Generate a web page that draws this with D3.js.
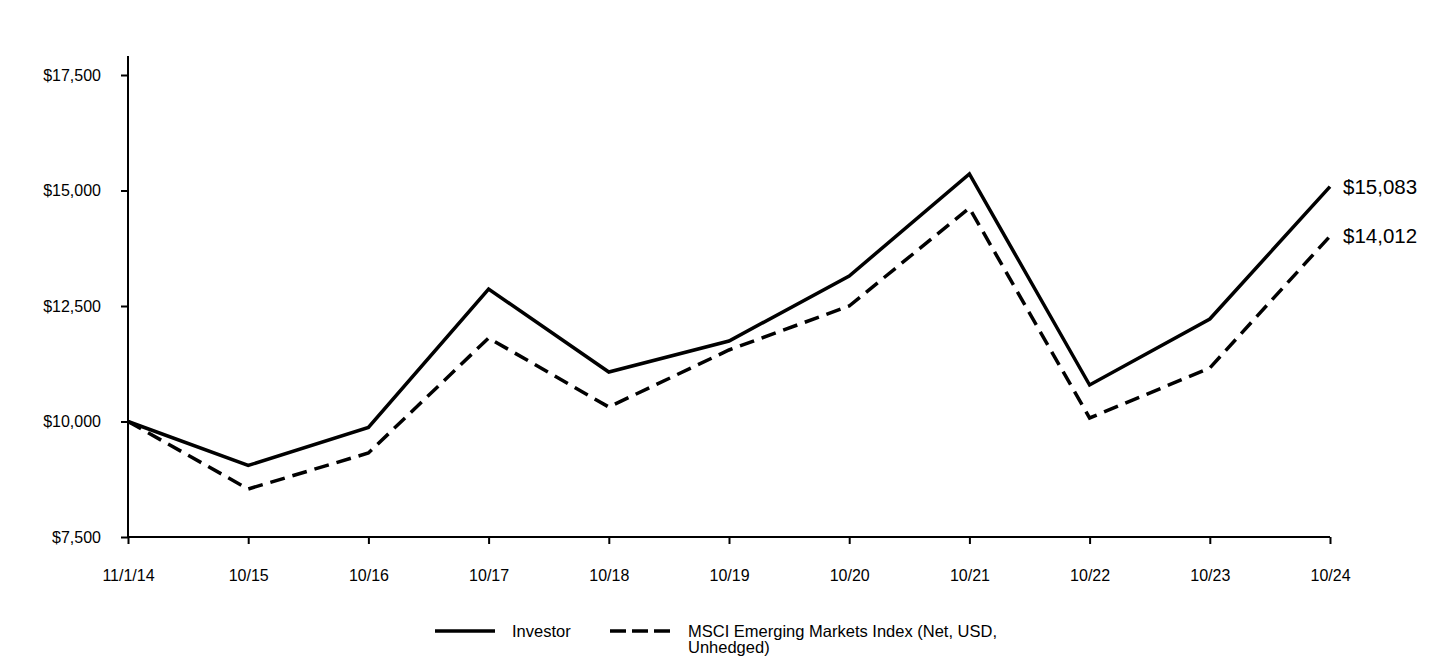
<!DOCTYPE html>
<html>
<head>
<meta charset="utf-8">
<script src="https://cdn.jsdelivr.net/npm/d3@7"></script>
<style>
  html, body { margin: 0; padding: 0; background: #fff; }
  svg { display: block; font-family: Arial, "Liberation Sans", sans-serif; }
</style>
</head>
<body>
<svg id="chart" width="1440" height="660"></svg>
<script>
const categories = ["11/1/14","10/15","10/16","10/17","10/18","10/19","10/20","10/21","10/22","10/23","10/24"];
const investor = [10000, 9048, 9870, 12868, 11071, 11742, 13149, 15357, 10790, 12219, 15083];
const msci = [10000, 8539, 9318, 11807, 10314, 11548, 12500, 14621, 10076, 11158, 14012];
const yTicks = [7500, 10000, 12500, 15000, 17500];
const seriesNames = ["Investor", "MSCI Emerging Markets Index (Net, USD,", "Unhedged)"];
const endLabels = ["$15,083", "$14,012"];

const svg = d3.select("#chart");
const x = d3.scalePoint().domain(categories).range([128, 1330]);
const y = d3.scaleLinear().domain([7500, 17500]).range([537, 75]);
const FONT = "Arial, 'Liberation Sans', sans-serif";

// y axis
const yAxis = d3.axisLeft(y).tickValues(yTicks).tickSize(7).tickPadding(20)
  .tickFormat(d => "$" + d3.format(",")(d));
const gy = svg.append("g").attr("transform", "translate(128,0)").call(yAxis);
gy.select(".domain").remove();
gy.append("line").attr("x1", 0).attr("x2", 0).attr("y1", y(17912)).attr("y2", y(7500))
  .attr("stroke", "#000").attr("stroke-width", 2);
gy.selectAll(".tick line").attr("stroke", "#000").attr("stroke-width", 2);
gy.selectAll(".tick text").attr("fill", "#000").style("font-size", "16px").style("font-family", FONT);

// x axis
const xAxis = d3.axisBottom(x).tickSize(7).tickPadding(26);
const gx = svg.append("g").attr("transform", "translate(0,537)").call(xAxis);
gx.select(".domain").remove();
gx.append("line").attr("x1", 128).attr("x2", 1330).attr("y1", 0).attr("y2", 0)
  .attr("stroke", "#000").attr("stroke-width", 2);
gx.selectAll(".tick line").attr("stroke", "#000").attr("stroke-width", 2);
gx.selectAll(".tick text").attr("fill", "#000").style("font-size", "16px").style("font-family", FONT);

const line = d3.line().x((d, i) => x(categories[i])).y(d => y(d));

svg.append("path").datum(msci).attr("d", line).attr("fill", "none")
  .attr("stroke", "#000").attr("stroke-width", 3.5).attr("stroke-dasharray", "15,8")
  .attr("stroke-linejoin", "miter");
svg.append("path").datum(investor).attr("d", line).attr("fill", "none")
  .attr("stroke", "#000").attr("stroke-width", 3.5).attr("stroke-linejoin", "miter");

// end labels
const last = categories[categories.length - 1];
[[investor, endLabels[0]], [msci, endLabels[1]]].forEach(([s, lab]) => {
  svg.append("text").attr("x", x(last) + 13).attr("y", y(s[s.length - 1]) + 7)
    .style("font-size", "20.5px").attr("fill", "#000").text(lab);
});

// legend
const lg = svg.append("g").style("font-size", "16.5px");
lg.append("line").attr("x1", 435).attr("x2", 495).attr("y1", 631).attr("y2", 631)
  .attr("stroke", "#000").attr("stroke-width", 3.5);
lg.append("text").attr("x", 512).attr("y", 637).text(seriesNames[0]);
lg.append("line").attr("x1", 610).attr("x2", 670).attr("y1", 631).attr("y2", 631)
  .attr("stroke", "#000").attr("stroke-width", 3.5).attr("stroke-dasharray", "16,6");
lg.append("text").attr("x", 688).attr("y", 637).text(seriesNames[1]);
lg.append("text").attr("x", 688).attr("y", 653).text(seriesNames[2]);
</script>
</body>
</html>
